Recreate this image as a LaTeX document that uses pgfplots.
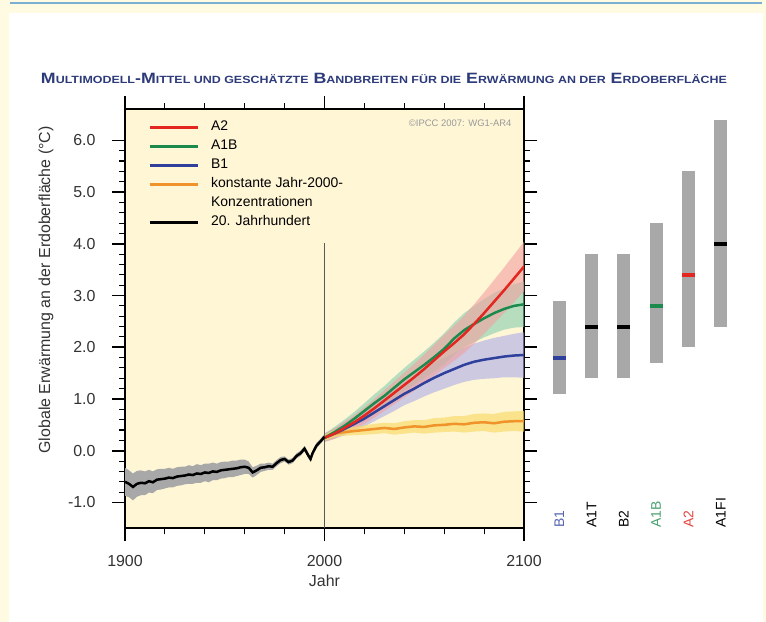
\documentclass[border=0pt]{standalone}
\usepackage{pgfplots}
\pgfplotsset{compat=1.18}
\usepackage{pgfplotstable}
\usepgfplotslibrary{fillbetween}
\usepackage{fontspec}
\setmainfont{Liberation Sans}
\usepackage{graphicx}

\pgfdeclarelayer{axis background}
\pgfplotsset{set layers}

\definecolor{outerbg}{HTML}{FFFBE3}
\definecolor{plotbg}{HTML}{FFF6D6}
\definecolor{topline}{HTML}{7AAED2}
\definecolor{titleblue}{HTML}{2D3B7A}
\definecolor{cA2}{HTML}{E3261F}
\definecolor{cA1B}{HTML}{1C8A4C}
\definecolor{cB1}{HTML}{2E3F9C}
\definecolor{cKon}{HTML}{F0932B}
\definecolor{bA2}{HTML}{F2A0A0}
\definecolor{bA1B}{HTML}{86CFAE}
\definecolor{bB1}{HTML}{ABABE8}
\definecolor{bKon}{HTML}{F8DC6A}
\definecolor{bargray}{HTML}{A8A8A8}
\definecolor{tickgray}{HTML}{333333}

\newcommand{\sm}[1]{{\fontsize{10.5}{12}\selectfont #1}}

% 20. Jahrhundert: Jahr, Mittel, halbe Bandbreite
\pgfplotstableread{
yr m h
1900 -0.60 0.27
1902 -0.64 0.26
1904 -0.70 0.26
1906 -0.64 0.25
1908 -0.62 0.24
1910 -0.63 0.23
1912 -0.59 0.22
1914 -0.61 0.21
1916 -0.56 0.20
1918 -0.55 0.20
1920 -0.54 0.19
1922 -0.52 0.19
1924 -0.53 0.18
1926 -0.50 0.18
1928 -0.49 0.18
1930 -0.48 0.17
1932 -0.46 0.18
1934 -0.47 0.17
1936 -0.44 0.18
1938 -0.45 0.17
1940 -0.42 0.17
1942 -0.43 0.18
1944 -0.40 0.17
1946 -0.41 0.16
1948 -0.38 0.16
1950 -0.37 0.16
1952 -0.36 0.15
1954 -0.35 0.16
1956 -0.34 0.15
1958 -0.32 0.15
1960 -0.31 0.14
1962 -0.33 0.12
1964 -0.42 0.10
1966 -0.38 0.09
1968 -0.33 0.08
1970 -0.32 0.07
1972 -0.30 0.07
1974 -0.31 0.06
1976 -0.24 0.06
1978 -0.18 0.06
1980 -0.16 0.05
1982 -0.22 0.05
1984 -0.19 0.05
1986 -0.10 0.05
1988 -0.05 0.05
1990 0.04 0.05
1992 -0.10 0.05
1993 -0.16 0.05
1994 -0.05 0.05
1996 0.10 0.05
1998 0.18 0.05
2000 0.27 0.05
}\tTw

\pgfplotstableread{
yr m h
2000 0.25 0.08
2005 0.33 0.10
2010 0.44 0.12
2015 0.55 0.14
2020 0.68 0.16
2025 0.82 0.18
2030 0.97 0.20
2035 1.12 0.22
2040 1.27 0.24
2045 1.42 0.26
2050 1.58 0.28
2055 1.75 0.30
2060 1.92 0.32
2065 2.08 0.34
2070 2.25 0.36
2075 2.45 0.38
2080 2.66 0.40
2085 2.88 0.42
2090 3.10 0.44
2095 3.33 0.46
2100 3.56 0.48
}\tAtwo

\pgfplotstableread{
yr m h
2000 0.25 0.08
2005 0.36 0.10
2010 0.48 0.12
2015 0.62 0.13
2020 0.77 0.15
2025 0.92 0.17
2030 1.06 0.19
2035 1.22 0.21
2040 1.38 0.22
2045 1.52 0.24
2050 1.66 0.26
2055 1.81 0.28
2060 1.97 0.30
2065 2.17 0.31
2070 2.33 0.33
2075 2.45 0.35
2080 2.56 0.37
2085 2.66 0.39
2090 2.74 0.40
2095 2.80 0.42
2100 2.83 0.44
}\tAoneB

\pgfplotstableread{
yr m h
2000 0.25 0.08
2005 0.33 0.10
2010 0.42 0.12
2015 0.52 0.13
2020 0.62 0.15
2025 0.74 0.17
2030 0.86 0.19
2035 0.98 0.21
2040 1.10 0.22
2045 1.20 0.24
2050 1.31 0.26
2055 1.41 0.28
2060 1.50 0.30
2065 1.58 0.31
2070 1.66 0.33
2075 1.72 0.35
2080 1.76 0.37
2085 1.79 0.39
2090 1.82 0.40
2095 1.84 0.42
2100 1.85 0.44
}\tBone

\pgfplotstableread{
yr m h
2000 0.25 0.06
2005 0.33 0.07
2010 0.36 0.07
2015 0.38 0.08
2020 0.40 0.09
2025 0.42 0.10
2030 0.44 0.10
2035 0.42 0.11
2040 0.45 0.12
2045 0.47 0.12
2050 0.46 0.13
2055 0.49 0.14
2060 0.50 0.14
2065 0.52 0.15
2070 0.51 0.16
2075 0.54 0.17
2080 0.55 0.17
2085 0.53 0.18
2090 0.56 0.19
2095 0.57 0.19
2100 0.57 0.20
}\tKon

\begin{document}
\begin{tikzpicture}
\begin{pgfonlayer}{axis background}
\fill[outerbg] (0bp,0bp) rectangle (766bp,622bp);
\fill[white] (9bp,0bp) rectangle (763bp,609bp);
\draw[topline, line width=2.5bp] (10bp,619bp) -- (762bp,619bp);
\end{pgfonlayer}

\node[anchor=base, text=titleblue, font=\bfseries\fontsize{15}{17}\selectfont] at (384bp,538bp)
  {\scalebox{1.19}[1]{M\sm{ULTIMODELL}-M\sm{ITTEL UND GESCHÄTZTE} B\sm{ANDBREITEN FÜR DIE} E\sm{RWÄRMUNG AN DER} E\sm{RDOBERFLÄCHE}}};

\begin{axis}[
  at={(125bp,93.7bp)}, anchor=south west,
  scale only axis, width=399bp, height=419bp,
  xmin=1900, xmax=2100, ymin=-1.5, ymax=6.6,
  xtick={1900,2000,2100}, minor x tick num=4,
  ytick={-1,0,1,2,3,4,5,6}, minor y tick num=4,
  tick align=outside,
  major tick length=13bp, minor tick length=6bp,
  major tick style={line width=1.6bp, black},
  minor tick style={line width=1.1bp, black},
  axis line style={line width=1.8bp},
  axis background/.style={fill=plotbg},
  /pgf/number format/assume math mode=true,
  tick label style={font=\fontsize{16}{18}\selectfont, text=tickgray},
  xticklabel style={/pgf/number format/1000 sep={}, yshift=-11bp},
  yticklabel style={/pgf/number format/.cd, fixed, fixed zerofill, precision=1, /tikz/.cd, xshift=-13bp},
  xlabel={Jahr},
  ylabel={Globale Erwärmung an der Erdoberfläche (°C)},
  label style={font=\fontsize{16}{18}\selectfont, text=tickgray},
  xlabel style={at={(axis description cs:0.5,-0.126)}, anchor=center},
  ylabel style={at={(axis description cs:-0.198,0.569)}, anchor=center},
  legend style={at={(axis description cs:0.0576,0.980)}, anchor=north west,
    draw=none, fill=none, inner sep=0pt, column sep=12bp,
    font=\fontsize{14}{16}\selectfont,
    nodes={inner xsep=0pt, inner ysep=3bp, text height=10bp, text depth=3bp}},
  legend cell align=left,
  legend image code/.code={\draw[#1] (0bp,0bp) -- (48bp,0bp);},
]
\addlegendimage{cA2, line width=3bp}\addlegendentry{A2}
\addlegendimage{cA1B, line width=3bp}\addlegendentry{A1B}
\addlegendimage{cB1, line width=3bp}\addlegendentry{B1}
\addlegendimage{cKon, line width=3bp}\addlegendentry{konstante Jahr-2000-}
\addlegendimage{empty legend}\addlegendentry{Konzentrationen}
\addlegendimage{black, line width=3bp}\addlegendentry{20. Jahrhundert}

% Bandbreiten
\addplot[name path=twhi, draw=none, forget plot] table[x=yr, y expr=\thisrow{m}+\thisrow{h}] {\tTw};
\addplot[name path=twlo, draw=none, forget plot] table[x=yr, y expr=\thisrow{m}-\thisrow{h}] {\tTw};
\addplot[bargray, draw=none, forget plot] fill between[of=twhi and twlo];

\addplot[name path=bhi, draw=none, forget plot] table[x=yr, y expr=\thisrow{m}+\thisrow{h}] {\tBone};
\addplot[name path=blo, draw=none, forget plot] table[x=yr, y expr=\thisrow{m}-\thisrow{h}] {\tBone};
\addplot[bB1, fill opacity=0.6, draw=none, forget plot] fill between[of=bhi and blo];

\addplot[name path=ghi, draw=none, forget plot] table[x=yr, y expr=\thisrow{m}+\thisrow{h}] {\tAoneB};
\addplot[name path=glo, draw=none, forget plot] table[x=yr, y expr=\thisrow{m}-\thisrow{h}] {\tAoneB};
\addplot[bA1B, fill opacity=0.6, draw=none, forget plot] fill between[of=ghi and glo];

\addplot[name path=rhi, draw=none, forget plot] table[x=yr, y expr=\thisrow{m}+\thisrow{h}] {\tAtwo};
\addplot[name path=rlo, draw=none, forget plot] table[x=yr, y expr=\thisrow{m}-\thisrow{h}] {\tAtwo};
\addplot[bA2, fill opacity=0.6, draw=none, forget plot] fill between[of=rhi and rlo];

\addplot[name path=khi, draw=none, forget plot] table[x=yr, y expr=\thisrow{m}+\thisrow{h}] {\tKon};
\addplot[name path=klo, draw=none, forget plot] table[x=yr, y expr=\thisrow{m}-\thisrow{h}] {\tKon};
\addplot[bKon, fill opacity=0.7, draw=none, forget plot] fill between[of=khi and klo];

\addplot[black!65, line width=1bp, forget plot] coordinates {(2000,-1.5) (2000,4.02)};

% Mittelwerte
\addplot[cKon, line width=2.5bp, forget plot] table[x=yr, y=m] {\tKon};
\addplot[cB1, line width=2.5bp, forget plot] table[x=yr, y=m] {\tBone};
\addplot[cA1B, line width=2.5bp, forget plot] table[x=yr, y=m] {\tAoneB};
\addplot[cA2, line width=2.5bp, forget plot] table[x=yr, y=m] {\tAtwo};
\addplot[black, line width=2.5bp, forget plot] table[x=yr, y=m] {\tTw};

\node[anchor=east, text=black!40, font=\fontsize{9.5}{11}\selectfont] at (axis cs:2095.5,6.34) {\textcopyright IPCC 2007: WG1-AR4};
\end{axis}

\begin{axis}[
  at={(527bp,93.7bp)}, anchor=south west,
  scale only axis, width=226bp, height=419bp,
  xmin=0, xmax=7, ymin=-1.5, ymax=6.6,
  hide axis, clip=false,
]
\addplot[bargray, line width=13bp] coordinates {(1,1.1) (1,2.9)};
\addplot[bargray, line width=13bp] coordinates {(2,1.4) (2,3.8)};
\addplot[bargray, line width=13bp] coordinates {(3,1.4) (3,3.8)};
\addplot[bargray, line width=13bp] coordinates {(4,1.7) (4,4.4)};
\addplot[bargray, line width=13bp] coordinates {(5,2.0) (5,5.4)};
\addplot[bargray, line width=13bp] coordinates {(6,2.4) (6,6.4)};
\addplot[cB1, line width=4bp] coordinates {(0.8,1.8) (1.2,1.8)};
\addplot[black, line width=4bp] coordinates {(1.8,2.4) (2.2,2.4)};
\addplot[black, line width=4bp] coordinates {(2.8,2.4) (3.2,2.4)};
\addplot[cA1B, line width=4bp] coordinates {(3.8,2.8) (4.2,2.8)};
\addplot[cA2, line width=4bp] coordinates {(4.8,3.4) (5.2,3.4)};
\addplot[black, line width=4bp] coordinates {(5.8,4.0) (6.2,4.0)};
\begin{scope}[every node/.style={rotate=90, anchor=west, font=\fontsize{14}{16}\selectfont}]
\node[text=cB1!80] at (axis cs:1,-1.55) {B1};
\node[text=black] at (axis cs:2,-1.55) {A1T};
\node[text=black] at (axis cs:3,-1.55) {B2};
\node[text=cA1B!80] at (axis cs:4,-1.55) {A1B};
\node[text=cA2!85] at (axis cs:5,-1.55) {A2};
\node[text=black] at (axis cs:6,-1.55) {A1FI};
\end{scope}
\end{axis}
\end{tikzpicture}
\end{document}
